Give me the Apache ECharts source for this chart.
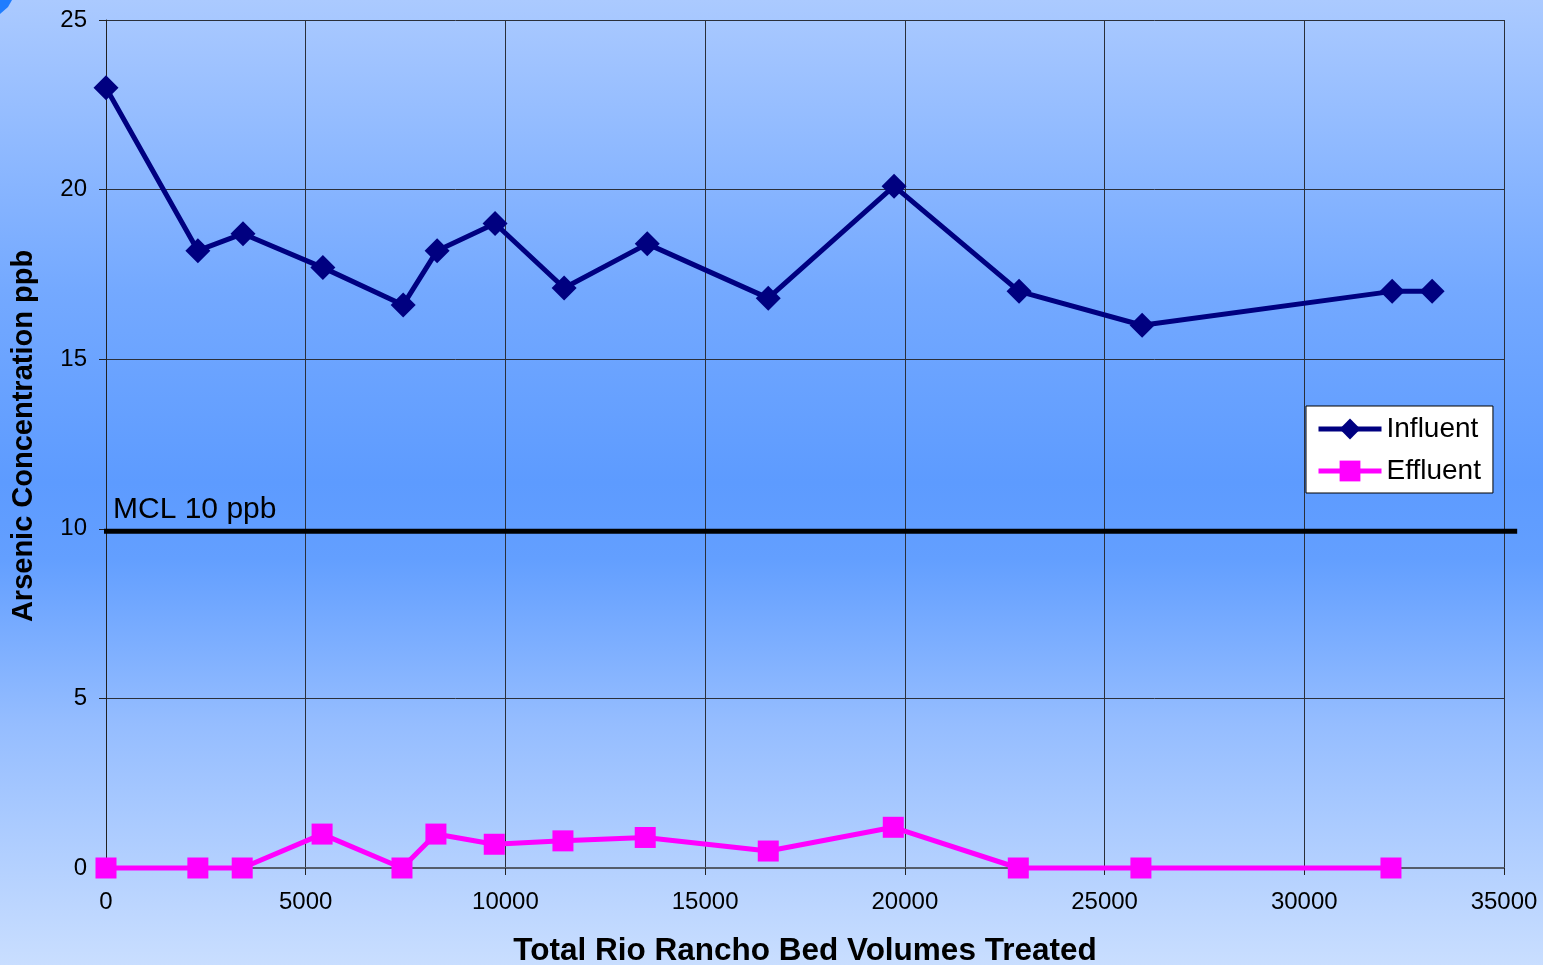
<!DOCTYPE html>
<html>
<head>
<meta charset="utf-8">
<script src="https://cdn.jsdelivr.net/npm/echarts@6/dist/echarts.min.js"></script>
<style>
  html, body { margin: 0; padding: 0; }
  #chart { width: 1543px; height: 965px; }
</style>
</head>
<body>
<div id="chart"></div>
<script>
// Bed volumes treated and arsenic readings (ppb)
const influentBV = [0, 2300, 3430, 5430, 7440, 8290, 9740, 11470, 13550, 16580, 19730, 22860, 25940, 32200, 33200];
const influent   = [23, 18.2, 18.7, 17.7, 16.6, 18.2, 19, 17.1, 18.4, 16.8, 20.1, 17, 16, 17, 17];
const effluentBV = [0, 2300, 3410, 5410, 7410, 8260, 9720, 11440, 13500, 16580, 19710, 22840, 25910, 32170];
const effluent   = [0, 0, 0, 1, 0, 1, 0.7, 0.8, 0.9, 0.5, 1.2, 0, 0, 0];
// Maximum contaminant level reference line
const mclLevel = 9.93;
const mclLabel = 'MCL 10 ppb';
const mclSpan = [-50, 35330];

const pairs = (xs, ys) => xs.map((x, i) => [x, ys[i]]);

const chart = echarts.init(document.getElementById('chart'), null, { renderer: 'canvas' });

const FONT = '"Liberation Sans", Arial, sans-serif';

chart.setOption({
  backgroundColor: new echarts.graphic.LinearGradient(0, 0, 0, 1, [
    { offset: 0.0, color: '#abcaff' },
    { offset: 0.3, color: '#74a9ff' },
    { offset: 0.5, color: '#5d9bff' },
    { offset: 0.58, color: '#639fff' },
    { offset: 0.75, color: '#95bdff' },
    { offset: 1.0, color: '#c9deff' }
  ]),
  animation: false,
  textStyle: { fontFamily: FONT },
  grid: {
    left: 106, right: 39, top: 20, bottom: 97,
    containLabel: false,
    outerBoundsMode: 'none'
  },
  legend: {
    left: 1306, top: 406,
    orient: 'vertical',
    backgroundColor: '#ffffff',
    borderColor: '#000000',
    borderWidth: 1,
    borderRadius: 0,
    padding: [9, 12, 8, 10],
    itemWidth: 63, itemHeight: 26,
    itemGap: 14,
    lineStyle: { width: 5 },
    textStyle: { fontSize: 28, color: '#000', fontFamily: FONT },
    data: ['Influent', 'Effluent']
  },
  xAxis: {
    type: 'value',
    min: 0, max: 35000, interval: 5000,
    name: 'Total Rio Rancho Bed Volumes Treated',
    nameLocation: 'middle',
    nameGap: 67,
    nameTextStyle: { fontSize: 31.5, fontWeight: 'bold', color: '#000', fontFamily: FONT },
    axisLine: { onZero: false, lineStyle: { color: '#555d6b', width: 2 } },
    axisTick: { show: true, length: 7, lineStyle: { color: '#222', width: 1 } },
    axisLabel: { fontSize: 24, color: '#000', margin: 22, fontFamily: FONT, formatter: v => String(v) },
    splitLine: { show: true, lineStyle: { color: '#2a2f3a', width: 1 } }
  },
  yAxis: {
    type: 'value',
    min: 0, max: 25, interval: 5,
    name: 'Arsenic Concentration ppb',
    nameLocation: 'middle',
    nameGap: 68,
    nameTextStyle: {
      fontSize: 29, fontWeight: 'bold', color: '#000', fontFamily: FONT,
      padding: [0, 0, 0, 16]
    },
    axisLine: { show: true, lineStyle: { color: '#222', width: 1 } },
    axisTick: { show: true, length: 7, lineStyle: { color: '#222', width: 1 } },
    axisLabel: { fontSize: 24, color: '#000', margin: 19, fontFamily: FONT },
    splitLine: { show: true, lineStyle: { color: '#2a2f3a', width: 1 } }
  },
  series: [
    {
      name: 'Influent',
      type: 'line',
      data: pairs(influentBV, influent),
      symbol: 'diamond',
      symbolSize: 25,
      clip: false,
      lineStyle: { color: '#000080', width: 5 },
      itemStyle: { color: '#000080' },
      z: 3
    },
    {
      name: 'Effluent',
      type: 'line',
      data: pairs(effluentBV, effluent),
      symbol: 'rect',
      symbolSize: 21,
      clip: false,
      lineStyle: { color: '#ff00ff', width: 5 },
      itemStyle: { color: '#ff00ff' },
      z: 3
    }
  ]
});

// MCL line runs slightly past the plot edges, so place it through the axis scales
const p0 = chart.convertToPixel({ gridIndex: 0 }, [mclSpan[0], mclLevel]);
const p1 = chart.convertToPixel({ gridIndex: 0 }, [mclSpan[1], mclLevel]);
chart.setOption({
  graphic: [
    {
      type: 'polygon',
      shape: { points: [[0, 0], [12, 0], [8, 7], [0, 14]] },
      style: { fill: '#1f7dff' },
      z: 1
    },
    {
      type: 'line',
      shape: { x1: p0[0], y1: p0[1], x2: p1[0], y2: p1[1] },
      style: { stroke: '#000000', lineWidth: 5 },
      z: 2
    },
    {
      type: 'text',
      x: p0[0] + 9,
      y: p0[1] - 6,
      style: {
        text: mclLabel,
        fill: '#000',
        font: '30px ' + FONT,
        verticalAlign: 'bottom'
      },
      z: 2
    }
  ]
});
</script>
</body>
</html>
